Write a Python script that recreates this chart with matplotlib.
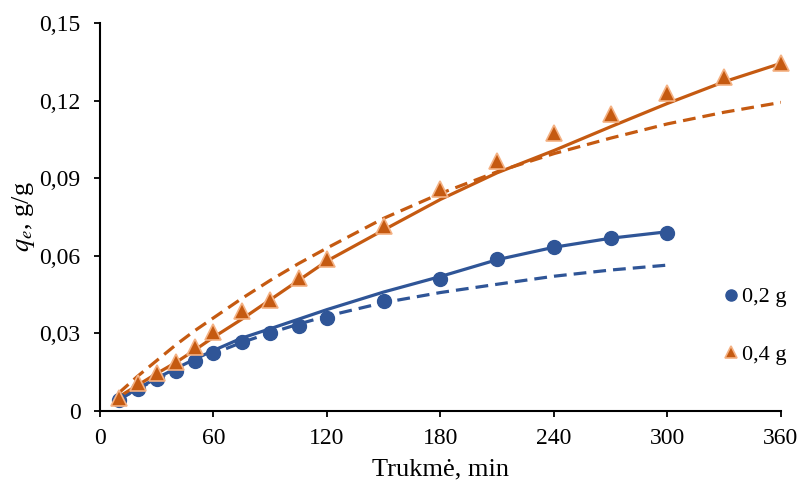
import matplotlib
matplotlib.use('Agg')
import matplotlib.pyplot as plt

plt.rcParams['font.family'] = ['Liberation Serif', 'DejaVu Serif']
plt.rcParams['mathtext.fontset'] = 'stix'

# measured points
t_02 = [10, 20, 30, 40, 50, 60, 75, 90, 105, 120, 150, 180, 210, 240, 270, 300]
q_02 = [0.0043, 0.0086, 0.0123, 0.0155, 0.0193, 0.0224, 0.0267, 0.0301, 0.0328, 0.0360,
        0.0427, 0.0510, 0.0589, 0.0633, 0.0667, 0.0690]
t_04 = [10, 20, 30, 40, 50, 60, 75, 90, 105, 120, 150, 180, 210, 240, 270, 300, 330, 360]
q_04 = [0.0051, 0.0107, 0.0146, 0.0190, 0.0248, 0.0307, 0.0386, 0.0429, 0.0515, 0.0589,
        0.0716, 0.0858, 0.0968, 0.1073, 0.1150, 0.1228, 0.1290, 0.1345]

# model curves (solid and dashed) at the same times
fit_02_solid = [0.0045, 0.0087, 0.0127, 0.0164, 0.0200, 0.0234, 0.0282, 0.0318, 0.0355, 0.0392,
                0.0460, 0.0520, 0.0585, 0.0633, 0.0668, 0.0693]
fit_02_dash = [0.0044, 0.0085, 0.0124, 0.0160, 0.0192, 0.0222, 0.0265, 0.0302, 0.0336, 0.0367,
               0.0419, 0.0458, 0.0490, 0.0521, 0.0545, 0.0564]
fit_04_solid = [0.0055, 0.0100, 0.0145, 0.0187, 0.0235, 0.0285, 0.0355, 0.0430, 0.0505, 0.0580,
                0.0700, 0.0818, 0.0921, 0.1007, 0.1099, 0.1189, 0.1273, 0.1344]
fit_04_dash = [0.0070, 0.0135, 0.0195, 0.0255, 0.0310, 0.0360, 0.0435, 0.0505, 0.0570, 0.0630,
               0.0745, 0.0841, 0.0925, 0.0995, 0.1055, 0.1110, 0.1155, 0.1193]

x_ticks = [0, 60, 120, 180, 240, 300, 360]
y_ticks = [0, 0.03, 0.06, 0.09, 0.12, 0.15]
y_labels = ['0', '0,03', '0,06', '0,09', '0,12', '0,15']

blue = '#2F5597'
orange = '#C55A11'

fig = plt.figure(figsize=(8.03, 4.88), dpi=100)
ax = fig.add_axes([0.1245, 0.1578, 0.8481, 0.7951])

dash = (0, (4, 2.2))
ax.plot(t_02, fit_02_solid, color=blue, lw=2.3, zorder=2)
ax.plot(t_02, fit_02_dash, color=blue, lw=2.3, ls=dash, zorder=2)
ax.plot(t_04, fit_04_solid, color=orange, lw=2.3, zorder=2)
ax.plot(t_04, fit_04_dash, color=orange, lw=2.3, ls=dash, zorder=2)

ax.plot(t_02, q_02, 'o', color=blue, ms=10, mec=blue, label='0,2 g', zorder=3, clip_on=False)
ax.plot(t_04, q_04, '^', color=orange, ms=11, mec='#F4B183', mew=1.2, label='0,4 g',
        zorder=4, clip_on=False)

ax.set_xlim(0, 360)
ax.set_ylim(0, 0.15)
ax.set_xticks(x_ticks)
ax.set_yticks(y_ticks)
ax.set_yticklabels(y_labels)
ax.tick_params(labelsize=17, width=1.3, length=4, direction='out')
ax.tick_params(axis='y', pad=10)
ax.tick_params(axis='x', pad=8)
for s in ['top', 'right']:
    ax.spines[s].set_visible(False)
for s in ['left', 'bottom']:
    ax.spines[s].set_linewidth(1.5)

ax.set_xlabel('Trukmė, min', fontsize=19, labelpad=7)
ax.set_ylabel(r'$q_e$, g/g', fontsize=19, labelpad=2)

ax.legend(loc='center left', bbox_to_anchor=(0.9, 0.22), frameon=False, fontsize=16,
          handlelength=0.6, handletextpad=0.2, labelspacing=1.65, markerscale=0.8, borderpad=0)

fig.savefig('out.png', dpi=100)
